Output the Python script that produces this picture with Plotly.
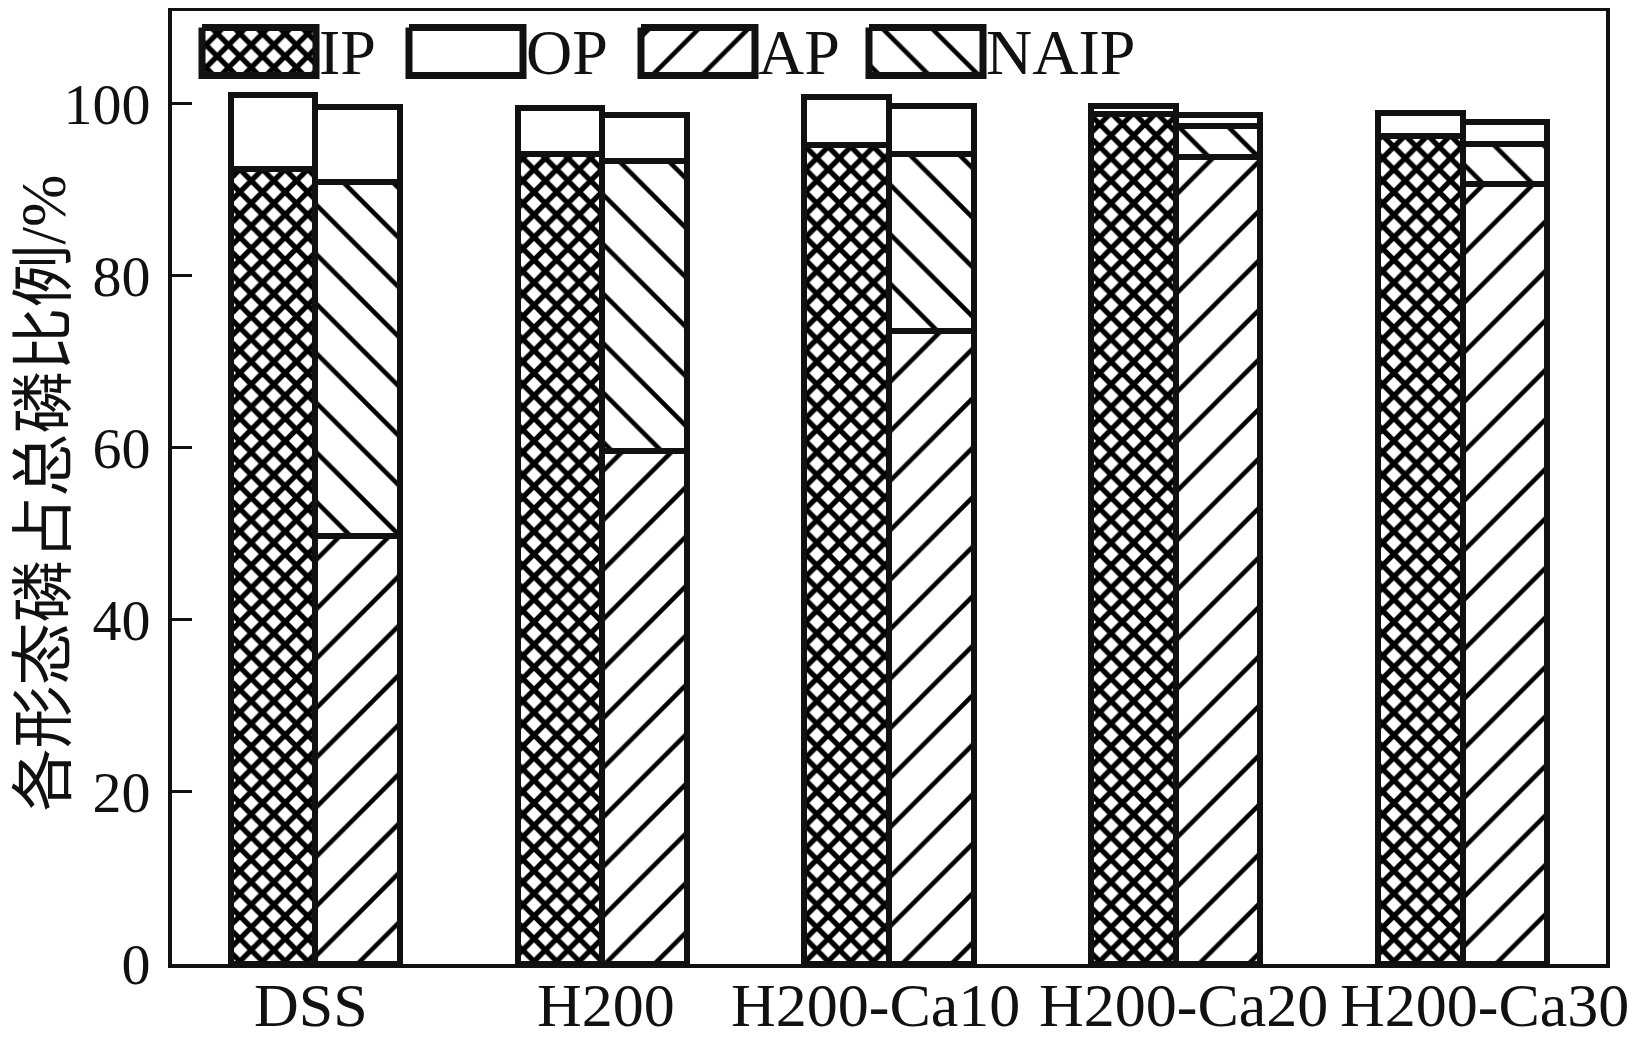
import plotly.graph_objects as go

# ---------------- data ----------------
categories = ["DSS", "H200", "H200-Ca10", "H200-Ca20", "H200-Ca30"]
IP = [92.4, 94.2, 95.2, 98.8, 96.3]          # left bar, bottom
OP_left = [8.6, 5.3, 5.6, 0.9, 2.6]           # left bar, top
AP = [49.8, 59.7, 73.6, 93.8, 90.7]           # right bar, bottom
NAIP = [41.1, 33.7, 20.6, 3.6, 4.6]           # right bar, middle
OP_right = [8.7, 5.3, 5.5, 1.3, 2.6]          # right bar, top
y_ticks = [0, 20, 40, 60, 80, 100]
y_title = "各形态磷占总磷比例/%"
legend_names = ["IP", "OP", "AP", "NAIP"]

# ---------------- style ----------------
FONT = "Liberation Serif, Times New Roman, Noto Sans CJK SC, serif"
INK = "#111111"
PAGE_OFFSET = 8                      # default body margin of the html page
W, H = 1638 - PAGE_OFFSET, 1043 - PAGE_OFFSET
ML, MR, MT, MB = 172 - PAGE_OFFSET, 32, 10.5 - PAGE_OFFSET, 79
PW, PH = W - ML - MR, H - MT - MB
BAR_W = 0.295
OUTLINE = 6
LABEL_XSHIFT = [-4, 4, -14, 8, 22]   # manual nudges of category labels (px)

patterns = {
    "IP": dict(shape="x", size=16, solidity=0.56, fgcolor="black", bgcolor="white", fgopacity=1),
    "OP": dict(shape="", fgcolor="black", bgcolor="white", fgopacity=1),
    "AP": dict(shape="/", size=35, solidity=0.13, fgcolor="black", bgcolor="white", fgopacity=1),
    "NAIP": dict(shape="\\", size=35, solidity=0.13, fgcolor="black", bgcolor="white", fgopacity=1),
}

idx = list(range(len(categories)))
x_left = [i - BAR_W / 2 for i in idx]
x_right = [i + BAR_W / 2 for i in idx]

fig = go.Figure()


def add_bar(x, y, key):
    fig.add_trace(go.Bar(
        x=x, y=y, width=BAR_W, name=key,
        marker=dict(color="white", pattern=patterns[key],
                    line=dict(color=INK, width=OUTLINE)),
        showlegend=False, hoverinfo="skip",
    ))


add_bar(x_left, IP, "IP")
add_bar(x_left, OP_left, "OP")
add_bar(x_right, AP, "AP")
add_bar(x_right, NAIP, "NAIP")
add_bar(x_right, OP_right, "OP")

annotations = []

# ---------------- custom legend (pixel space of the plot area) ----------------
LEG_X0 = [30, 237, 469, 697]
LEG_BW = 114
LEG_Y0, LEG_Y1 = 16.5, 64.5
for name, x0 in zip(legend_names, LEG_X0):
    pat = patterns[name]
    fig.add_trace(go.Scatter(
        x=[x0, x0 + LEG_BW, x0 + LEG_BW, x0, x0],
        y=[LEG_Y0, LEG_Y0, LEG_Y1, LEG_Y1, LEG_Y0],
        xaxis="x2", yaxis="y2", mode="lines", fill="toself",
        fillcolor="white",
        fillpattern=dict(shape=pat["shape"], size=pat.get("size", 8),
                         solidity=pat.get("solidity", 0.3),
                         fgcolor="black", bgcolor="white", fgopacity=1),
        line=dict(color=INK, width=7), showlegend=False, hoverinfo="skip",
    ))
    annotations.append(dict(
        x=x0 + LEG_BW + 1, y=(LEG_Y0 + LEG_Y1) / 2 + 1, xref="x2", yref="y2",
        text=name, showarrow=False, xanchor="left", yanchor="middle",
        font=dict(family=FONT, size=64, color=INK),
    ))

# ---------------- category labels ----------------
for i, (cat, dx) in enumerate(zip(categories, LABEL_XSHIFT)):
    annotations.append(dict(
        x=i, y=0, xref="x", yref="paper", yshift=-41, xshift=dx,
        text=cat, showarrow=False, xanchor="center", yanchor="middle",
        font=dict(family=FONT, size=62, color=INK),
    ))

# ---------------- y title ----------------
annotations.append(dict(
    x=0, y=0.5, xref="paper", yref="paper", xshift=-129, yshift=-6,
    text=y_title, textangle=-90, showarrow=False,
    xanchor="center", yanchor="middle",
    font=dict(family=FONT, size=63, color=INK),
))

fig.update_layout(
    width=W, height=H,
    margin=dict(l=ML, r=MR, t=MT, b=MB, autoexpand=False),
    paper_bgcolor="white", plot_bgcolor="white",
    barmode="stack", bargap=0,
    showlegend=False,
    font=dict(family=FONT, color=INK),
    annotations=annotations,
    xaxis=dict(
        range=[-0.5, len(categories) - 0.5],
        tickmode="array", tickvals=idx, ticktext=[""] * len(idx),
        ticks="", showgrid=False, zeroline=False,
        showline=True, linecolor=INK, linewidth=4, mirror=True,
        automargin=False,
    ),
    yaxis=dict(
        range=[0, 110.8],
        tickmode="array", tickvals=y_ticks,
        ticks="inside", ticklen=20, tickwidth=3, tickcolor=INK,
        showgrid=False, zeroline=False,
        showline=True, linecolor=INK, linewidth=4, mirror=True,
        tickfont=dict(family=FONT, size=58, color=INK),
        ticklabelstandoff=6,
        automargin=False,
    ),
    xaxis2=dict(overlaying="x", range=[0, PW], visible=False, fixedrange=True),
    yaxis2=dict(overlaying="y", range=[PH, 0], visible=False, fixedrange=True),
)

fig.write_html("out.html")
